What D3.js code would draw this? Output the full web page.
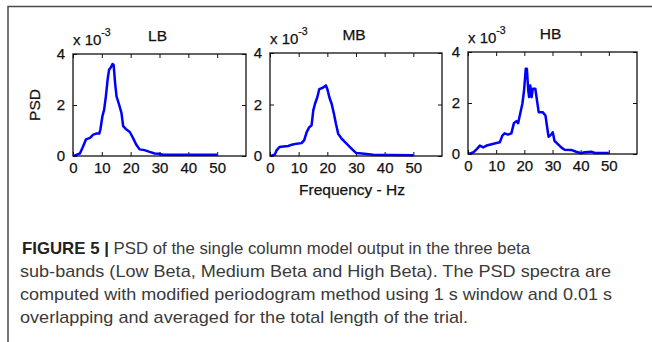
<!DOCTYPE html>
<html>
<head>
<meta charset="utf-8">
<script src="https://cdn.jsdelivr.net/npm/d3@7"></script>
<style>
  body { margin: 0; background: #fff; }
  svg { display: block; }
</style>
</head>
<body>
<script>
// PSD values are in units of 1e-3, frequency in Hz
const lbFreq = [0.3, 2.4, 3.3, 4.5, 5.9, 7, 8.2, 9.1, 9.5, 10.2, 10.8, 11.4, 12, 12.5, 13.1, 13.7, 14.1, 14.6, 15.1, 16, 16.8, 17.4, 18.3, 19.7, 20.8, 21.9, 23.1, 24.8, 26.6, 28.3, 30, 31.1, 34.6, 40, 45, 50];
const lbPsd = [0, 0.1, 0.32, 0.65, 0.71, 0.84, 0.88, 0.88, 1.04, 1.56, 1.82, 2.34, 2.99, 3.38, 3.47, 3.61, 3.57, 2.86, 2.34, 2.01, 1.69, 1.17, 1.06, 0.94, 0.71, 0.45, 0.26, 0.23, 0.16, 0.1, 0.09, 0.05, 0.05, 0.05, 0.05, 0.05];

const mbFreq = [0.35, 1.7, 2.3, 3.3, 4.7, 6.4, 7.6, 9.3, 11, 11.9, 12.8, 13.7, 14.5, 15.1, 15.7, 16.5, 17.2, 18.4, 19.5, 20, 20.7, 21.5, 22.3, 23, 23.8, 25, 26.7, 28.5, 30, 32, 33.7, 36, 42, 50];
const mbPsd = [0, 0.06, 0.22, 0.35, 0.37, 0.39, 0.44, 0.48, 0.5, 0.61, 0.93, 1.12, 1.19, 1.77, 2.03, 2.28, 2.6, 2.65, 2.74, 2.6, 2.28, 2.03, 1.64, 1.25, 0.86, 0.67, 0.48, 0.28, 0.12, 0.1, 0.08, 0.05, 0.04, 0.03];

const hbFreq = [0.5, 2, 3.2, 4.2, 5.4, 6.6, 8, 9.8, 11.3, 12.2, 13, 14.2, 15.4, 16.3, 17.2, 17.8, 18.5, 19.3, 19.9, 20.5, 20.9, 21.4, 21.7, 22.1, 22.6, 23, 23.9, 24.5, 25.1, 26.5, 27.5, 28.1, 28.6, 29.5, 30.1, 30.7, 31.9, 33.1, 34.3, 36.6, 38.4, 40.2, 41.4, 43.8, 45, 50];
const hbPsd = [0.01, 0.07, 0.2, 0.33, 0.26, 0.33, 0.37, 0.42, 0.46, 0.72, 0.81, 0.76, 0.81, 1.21, 1.29, 1.21, 1.57, 1.97, 2.49, 3.34, 3.34, 2.49, 2.23, 2.69, 2.23, 2.56, 2.56, 2.1, 1.64, 1.64, 1.51, 1.05, 0.68, 0.76, 0.85, 0.52, 0.39, 0.26, 0.17, 0.16, 0.09, 0.03, 0.07, 0.09, 0.04, 0.04];

const panelTitles = ["LB", "MB", "HB"];
const xTicks = [0, 10, 20, 30, 40, 50];
const yTicks = [0, 2, 4];
const xDomain = [0, 60];
const yDomain = [0, 4];

const captionLines = [
  ["FIGURE 5 |", " PSD of the single column model output in the three beta"],
  ["", "sub-bands (Low Beta, Medium Beta and High Beta). The PSD spectra are"],
  ["", "computed with modified periodogram method using 1 s window and 0.01 s"],
  ["", "overlapping and averaged for the total length of the trial."]
];

const series = [
  { freq: lbFreq, psd: lbPsd },
  { freq: mbFreq, psd: mbPsd },
  { freq: hbFreq, psd: hbPsd }
];

// axes boxes for each panel (pixels)
const boxes = [
  { l: 73, r: 246, t: 54, b: 156 },
  { l: 270, r: 442, t: 53, b: 156 },
  { l: 468, r: 637, t: 52, b: 154 }
];
// caption line layout: left x and right edge
const capX = [22, 20, 20, 20];
const capEnd = [530, 611, 612, 468];

const W = 652, H = 342;
const font = "Liberation Sans, Arial, sans-serif";
const ink = "#111";

const svg = d3.select("body").append("svg").attr("width", W).attr("height", H);

// figure frame (top + left)
svg.append("path")
  .attr("d", `M8,${H} L8,6.5 L${W},6.5`)
  .attr("fill", "none")
  .attr("stroke", "#4a4a4a")
  .attr("stroke-width", 1.5);

const label = (sel, size) => sel
  .attr("font-family", font).attr("font-size", size).attr("fill", ink)
  .attr("stroke", ink).attr("stroke-width", 0.25);

series.forEach((s, i) => {
  const bx = boxes[i];
  const x = d3.scaleLinear().domain(xDomain).range([bx.l, bx.r]);
  const y = d3.scaleLinear().domain(yDomain).range([bx.b, bx.t]);
  const g = svg.append("g");

  const tickStyle = a => {
    a.attr("font-family", font).attr("font-size", 15);
    a.select(".domain").remove();
    a.selectAll(".tick line").attr("stroke", "#111").attr("stroke-width", 1);
    a.selectAll(".tick text").attr("fill", ink).attr("stroke", ink).attr("stroke-width", 0.25);
  };

  g.append("g").attr("transform", `translate(0,${bx.b})`)
    .call(d3.axisBottom(x).tickValues(xTicks).tickSize(-4).tickSizeOuter(0).tickPadding(6))
    .call(tickStyle);
  g.append("g").attr("transform", `translate(0,${bx.t})`)
    .call(d3.axisTop(x).tickValues(xTicks).tickSize(-4).tickSizeOuter(0).tickFormat(""))
    .call(tickStyle);
  g.append("g").attr("transform", `translate(${bx.l},0)`)
    .call(d3.axisLeft(y).tickValues(yTicks).tickSize(-4).tickSizeOuter(0).tickPadding(8).tickFormat(d3.format("d")))
    .call(tickStyle);
  g.append("g").attr("transform", `translate(${bx.r},0)`)
    .call(d3.axisRight(y).tickValues(yTicks).tickSize(-4).tickSizeOuter(0).tickFormat(""))
    .call(tickStyle);

  const pts = s.freq.map((f, k) => [f, s.psd[k]]);
  g.append("path")
    .datum(pts)
    .attr("fill", "none")
    .attr("stroke", "#0000ff")
    .attr("stroke-width", 2.5)
    .attr("stroke-linejoin", "round")
    .attr("d", d3.line().x(d => x(d[0])).y(d => y(d[1])));

  g.append("rect")
    .attr("x", bx.l).attr("y", bx.t)
    .attr("width", bx.r - bx.l).attr("height", bx.b - bx.t)
    .attr("fill", "none").attr("stroke", "#111").attr("stroke-width", 1.3);

  // exponent label
  const ex = g.append("text").attr("x", bx.l).attr("y", bx.t - 9).call(label, 15);
  ex.append("tspan").text("x 10");
  ex.append("tspan").attr("dy", -9).attr("font-size", 10.5).text("-3");

  g.append("text")
    .attr("x", (bx.l + bx.r) / 2 - 2).attr("y", bx.t - 13)
    .attr("text-anchor", "middle")
    .call(label, 15.5)
    .text(panelTitles[i]);

  if (i === 0) {
    g.append("text")
      .attr("transform", `translate(40,${(bx.t + bx.b) / 2}) rotate(-90)`)
      .attr("text-anchor", "middle")
      .call(label, 15.5)
      .text("PSD");
  }
  if (i === 1) {
    g.append("text")
      .attr("x", (bx.l + bx.r) / 2 - 4).attr("y", 195)
      .attr("text-anchor", "middle")
      .call(label, 15.5)
      .text("Frequency - Hz");
  }
});

// caption
const cap = svg.append("g");
captionLines.forEach((ln, k) => {
  const t = cap.append("text")
    .attr("font-family", font).attr("font-size", 17).attr("fill", "#3a3a3a")
    .attr("x", capX[k]).attr("y", 254 + k * 23)
    .attr("textLength", capEnd[k] - capX[k])
    .attr("lengthAdjust", "spacingAndGlyphs");
  if (ln[0]) t.append("tspan").attr("font-weight", "bold").attr("fill", "#222").text(ln[0]);
  t.append("tspan").text(ln[1]);
});
</script>
</body>
</html>
